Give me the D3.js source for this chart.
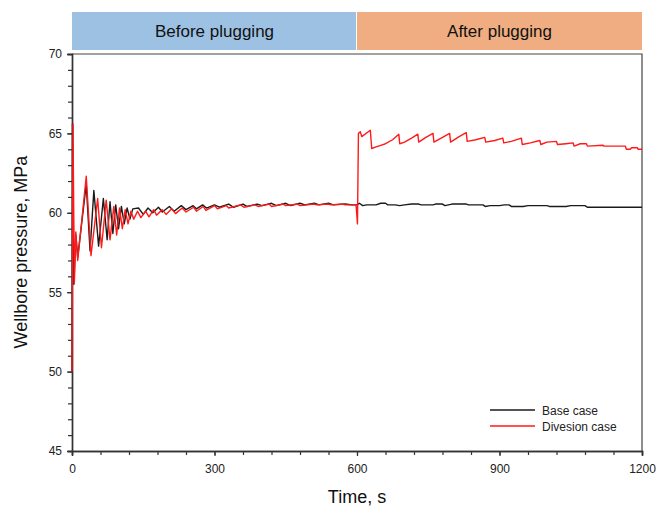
<!DOCTYPE html>
<html lang="en">
<head>
<meta charset="utf-8">
<title>Wellbore pressure</title>
<script src="https://d3js.org/d3.v7.min.js"></script>
<style>
  body { margin: 0; background: #fff; }
  * { font-family: 'Liberation Sans', Arial, sans-serif; }
</style>
</head>
<body>
<script>
// time (s) and pressure (MPa)
var baseT = [0,1,4,8,12,30,38,46,56,66,74,80,86,92,98,104,110,116,122,128,140,150,160,170,182,190,205,215,230,240,255,262,275,283,300,310,330,340,360,368,390,400,420,430,450,460,480,490,510,520,540,550,575,590,600,
  605,612,620,640,650,660,665,680,690,700,715,730,735,760,765,780,785,800,830,835,865,870,880,900,910,920,925,950,960,1000,1005,1040,1050,1080,1085,1200];
var baseP = [50,65.6,55.5,58.6,57.2,61.8,57.6,61.4,57.9,60.9,58.3,60.7,58.7,60.5,59.0,60.4,59.3,60.3,59.6,60.25,60.3,59.9,60.3,60.0,60.35,60.05,60.4,60.1,60.45,60.2,60.45,60.25,60.5,60.3,60.5,60.35,60.55,60.35,60.55,60.4,60.55,60.45,60.6,60.45,60.6,60.45,60.6,60.5,60.6,60.5,60.6,60.5,60.55,60.5,60.5,
  60.6,60.45,60.5,60.5,60.6,60.6,60.5,60.5,60.45,60.5,60.55,60.55,60.5,60.5,60.55,60.55,60.45,60.55,60.55,60.5,60.5,60.4,60.45,60.45,60.5,60.5,60.4,60.4,60.45,60.45,60.4,60.4,60.45,60.45,60.35,60.35];

var divT = [0,2,5,8,12,30,40,54,62,72,80,88,94,100,106,112,118,124,130,138,145,155,162,172,178,190,198,210,218,232,240,256,262,276,282,300,306,325,330,355,362,385,392,415,420,445,450,475,480,510,515,540,545,570,575,598,
  601,603,607,610,628,631,640,650,660,675,688,690,700,715,728,730,745,760,762,780,795,797,815,830,832,850,869,871,890,907,909,925,946,948,965,985,987,1000,1020,1022,1040,1055,1057,1070,1083,1085,1118,1120,1165,1167,1175,1178,1190,1192,1200];
var divP = [50,65.6,55.6,58.8,57.0,62.3,57.3,60.9,57.8,60.8,58.3,60.4,58.6,60.3,59.0,60.2,59.3,60.1,59.6,60.1,59.7,60.1,59.75,60.2,59.85,60.2,59.9,60.25,59.95,60.3,60.05,60.35,60.1,60.4,60.15,60.45,60.25,60.45,60.3,60.5,60.35,60.5,60.4,60.55,60.4,60.55,60.45,60.55,60.45,60.55,60.5,60.55,60.5,60.55,60.5,60.5,
  59.3,65.0,65.1,64.8,65.2,64.05,64.15,64.25,64.35,64.6,64.95,64.35,64.45,64.7,64.95,64.45,64.75,65.0,64.45,64.75,65.0,64.45,64.8,65.05,64.5,64.6,64.75,64.45,64.55,64.7,64.4,64.5,64.7,64.3,64.4,64.55,64.3,64.45,64.5,64.3,64.35,64.4,64.2,64.35,64.35,64.2,64.25,64.2,64.2,64.0,64.0,64.1,64.1,64.0,64.0];

var phases = ["Before plugging", "After plugging"];
var phaseEdges = [0, 600, 1200];
var seriesNames = ["Base case", "Divesion case"];
var seriesColors = ["#1a1a1a", "#ff1a1a"];

var w = 659, h = 508;
var mLeft = 72, mRight = 642, mTop = 54, mBottom = 451;

var svg = d3.select("body").append("svg")
  .attr("width", w).attr("height", h);

var x = d3.scaleLinear().domain([0, 1200]).range([mLeft, mRight]);
var y = d3.scaleLinear().domain([45, 70]).range([mBottom, mTop]);

// header bands
var bandCols = ["#9dc1e3", "#efad81"];
phases.forEach(function(p, i) {
  svg.append("rect")
    .attr("x", x(phaseEdges[i])).attr("y", 12)
    .attr("width", x(phaseEdges[i + 1]) - x(phaseEdges[i]) - (i == 0 ? 1 : 0))
    .attr("height", 38)
    .attr("fill", bandCols[i]);
  svg.append("text")
    .attr("x", (x(phaseEdges[i]) + x(phaseEdges[i + 1])) / 2)
    .attr("y", 37)
    .attr("text-anchor", "middle")
    .attr("font-size", "17px")
    .attr("fill", "#111")
    .text(p);
});

// frame top/right
svg.append("path")
  .attr("d", "M" + mLeft + "," + mTop + "H" + mRight + "V" + mBottom)
  .attr("fill", "none").attr("stroke", "#444").attr("stroke-width", 1.2);

// minor ticks
var xMinor = d3.axisBottom(x).tickValues(d3.range(0, 1201, 60)).tickSize(4).tickFormat("");
var yMinor = d3.axisLeft(y).tickValues(d3.range(45, 71, 1)).tickSize(4).tickFormat("");
svg.append("g").attr("transform", "translate(0," + mBottom + ")").call(xMinor);
svg.append("g").attr("transform", "translate(" + mLeft + ",0)").call(yMinor);

var xAxis = d3.axisBottom(x).tickValues([0, 300, 600, 900, 1200]).tickFormat(d3.format("d")).tickSize(5).tickPadding(8);
var yAxis = d3.axisLeft(y).tickValues([45, 50, 55, 60, 65, 70]).tickSize(5).tickPadding(5);
var gx = svg.append("g").attr("transform", "translate(0," + mBottom + ")").call(xAxis);
var gy = svg.append("g").attr("transform", "translate(" + mLeft + ",0)").call(yAxis);
[gx, gy].forEach(function(g) {
  g.selectAll("text").attr("font-size", "12px").attr("fill", "#222")
    .style("font-family", "'Liberation Sans', Arial, sans-serif");
});
svg.selectAll(".domain").attr("stroke", "#333").attr("stroke-width", 1.4);
svg.selectAll(".tick line").attr("stroke", "#333").attr("stroke-width", 1.2);

// lines
var data = [
  baseT.map(function(t, i) { return [t, baseP[i]]; }),
  divT.map(function(t, i) { return [t, divP[i]]; })
];
var line = d3.line().x(function(d) { return x(d[0]); }).y(function(d) { return y(d[1]); });
data.forEach(function(d, i) {
  svg.append("path").datum(d)
    .attr("d", line)
    .attr("fill", "none")
    .attr("stroke", seriesColors[i])
    .attr("stroke-width", 1.4)
    .attr("stroke-linejoin", "round");
});

// legend
seriesNames.forEach(function(n, i) {
  var ly = 410 + i * 16;
  svg.append("line").attr("x1", 490).attr("x2", 535).attr("y1", ly).attr("y2", ly)
    .attr("stroke", seriesColors[i]).attr("stroke-width", 1.4);
  svg.append("text").attr("x", 542).attr("y", ly + 4.5)
    .attr("font-size", "12px").attr("fill", "#222").text(n);
});

// axis titles
svg.append("text")
  .attr("transform", "translate(27," + 252 + ") rotate(-90)")
  .attr("text-anchor", "middle")
  .attr("font-size", "18px").attr("fill", "#111")
  .text("Wellbore pressure, MPa");
svg.append("text")
  .attr("x", x(600)).attr("y", 503)
  .attr("text-anchor", "middle")
  .attr("font-size", "18px").attr("fill", "#111")
  .text("Time, s");
</script>
</body>
</html>
